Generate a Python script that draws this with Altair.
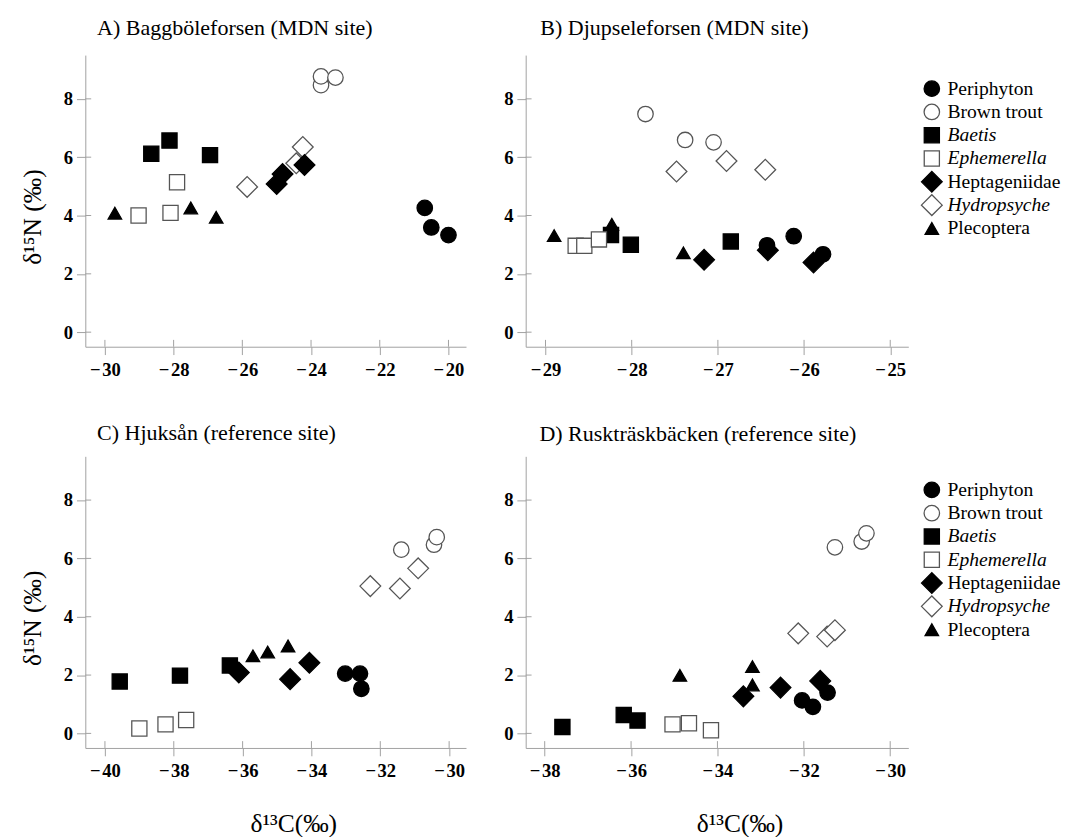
import altair as alt
import pandas as pd

species = ["Periphyton", "Brown trout", "Baetis", "Ephemerella",
           "Heptageniidae", "Hydropsyche", "Plecoptera"]
italic_species = ["Baetis", "Ephemerella", "Hydropsyche"]
shapes = ["circle", "circle", "square", "square", "diamond", "diamond", "triangle-up"]
fills = ["black", "white", "black", "white", "black", "white", "black"]
strokes = ["black", "#555555", "black", "#555555", "black", "#555555", "black"]
shape_sizes = {"circle": 250, "square": 240, "diamond": 450, "triangle-up": 190}
draw_order = ["Periphyton", "Brown trout", "Baetis", "Ephemerella",
              "Hydropsyche", "Heptageniidae", "Plecoptera"]

grp = lambda: [s for s in species for _ in range(3)]

# A) Baggböleforsen
a_c = [-20.69, -20.50, -20.00,  -23.71, -23.71, -23.29,  -28.65, -28.12, -26.94,
       -29.02, -28.09, -27.90,  -25.00, -24.83, -24.19,  -25.86, -24.43, -24.24,
       -29.71, -27.50, -26.76]
a_n = [4.26, 3.59, 3.33,  8.47, 8.77, 8.73,  6.12, 6.57, 6.07,
       4.00, 4.09, 5.14,  5.08, 5.42, 5.73,  4.98, 5.79, 6.35,
       4.08, 4.26, 3.94]
# B) Djupseleforsen
b_c = [-26.12, -26.43, -25.78,  -27.84, -27.38, -27.05,  -28.24, -28.01, -26.85,
       -28.65, -28.55, -28.38,  -27.16, -26.42, -25.89,  -27.48, -26.90, -26.45,
       -28.90, -28.23, -27.40]
b_n = [3.29, 2.98, 2.67,  7.48, 6.59, 6.51,  3.33, 3.00, 3.11,
       2.96, 2.96, 3.18,  2.48, 2.81, 2.39,  5.51, 5.87, 5.57,
       3.31, 3.70, 2.72]
# C) Hjuksån
c_c = [-33.02, -32.59, -32.55,  -31.39, -30.44, -30.36,  -39.57, -37.82, -36.37,
       -39.00, -38.24, -37.64,  -36.11, -34.62, -34.06,  -32.29, -31.43, -30.90,
       -35.70, -35.27, -34.68]
c_n = [2.05, 2.05, 1.53,  6.30, 6.47, 6.73,  1.78, 1.98, 2.33,
       0.17, 0.31, 0.46,  2.09, 1.86, 2.42,  5.05, 4.97, 5.66,
       2.66, 2.79, 3.00]
# D) Ruskträskbäcken
d_c = [-32.04, -31.79, -31.45,  -31.28, -30.66, -30.55,  -37.59, -36.17, -35.85,
       -35.04, -34.66, -34.15,  -33.40, -32.54, -31.62,  -32.13, -31.46, -31.28,
       -34.87, -33.19, -33.19]
d_n = [1.13, 0.91, 1.40,  6.38, 6.58, 6.86,  0.22, 0.63, 0.44,
       0.31, 0.35, 0.11,  1.27, 1.57, 1.80,  3.43, 3.32, 3.54,
       1.99, 2.29, 1.66]

y_ticks = [0, 2, 4, 6, 8]
a_ticks = [-30, -28, -26, -24, -22, -20]
b_ticks = [-29, -28, -27, -26, -25]
c_ticks = [-40, -38, -36, -34, -32, -30]
d_ticks = [-38, -36, -34, -32, -30]

FONT = "Liberation Serif, Times New Roman, DejaVu Serif, serif"
AXC = "#a0a0a0"
H = 298
WL, WR = 389, 391
NEG_LABEL = "datum.value < 0 ? '\u2212\u200a' + format(-datum.value, 'd') : format(datum.value, 'd')"


def sym_enc():
    return dict(
        shape=alt.Shape("species:N", scale=alt.Scale(domain=species, range=shapes), legend=None),
        fill=alt.Fill("species:N", scale=alt.Scale(domain=species, range=fills), legend=None),
        stroke=alt.Stroke("species:N", scale=alt.Scale(domain=species, range=strokes), legend=None),
    )


def point_layers(data, x, y):
    out = []
    for sp in draw_order:
        sz = shape_sizes[shapes[species.index(sp)]]
        out.append(
            alt.Chart(data).transform_filter(
                alt.FieldEqualPredicate(field="species", equal=sp)
            ).mark_point(opacity=1, strokeWidth=1.3, size=sz).encode(x=x, y=y, **sym_enc())
        )
    return out


def panel(cs, ns, title, xdom, xticks, width, ytitle, xtitle, toff, tdx, xt_shift):
    df = pd.DataFrame({"species": grp(), "d13C": cs, "d15N": ns})
    xaxis = dict(values=xticks, tickSize=8, labelPadding=6, labelExpr=NEG_LABEL)
    if xtitle:
        xaxis.update(title="δ¹³C(‰)", titleX=width / 2 + xt_shift, titlePadding=31)
    else:
        xaxis.update(title=None)
    yaxis = dict(values=y_ticks, tickSize=9, labelPadding=4, format="d")
    if ytitle:
        yaxis.update(title="δ¹⁵N (‰)", titleY=165, titlePadding=18)
    else:
        yaxis.update(title=None)
    xs = alt.Scale(domain=xdom, nice=False, zero=False)
    ys = alt.Scale(domain=[-0.5, 9.5], nice=False, zero=False)
    x = alt.X("d13C:Q", scale=xs, axis=alt.Axis(**xaxis))
    y = alt.Y("d15N:Q", scale=ys, axis=alt.Axis(**yaxis))
    yin = alt.Chart(pd.DataFrame({"d15N": y_ticks})).mark_rule(color=AXC, strokeWidth=1).encode(
        y=alt.Y("d15N:Q", scale=ys), x=alt.value(0), x2=alt.value(6))
    xin = alt.Chart(pd.DataFrame({"d13C": xticks})).mark_rule(color=AXC, strokeWidth=1).encode(
        x=alt.X("d13C:Q", scale=xs), y=alt.value(H), y2=alt.value(H - 7))
    return alt.layer(*point_layers(df, x, y), yin, xin).properties(
        width=width, height=H,
        title=alt.TitleParams(title, anchor="start", frame="group", dx=tdx, offset=toff,
                              baseline="bottom", font=FONT, fontSize=22.5,
                              fontWeight="normal", color="black"),
    )


def legend_chart():
    ldf = pd.DataFrame({"species": species, "order": list(range(len(species)))})
    ly = alt.Y("order:Q", scale=alt.Scale(domain=[-34.3 / 23.8, (H - 34.3) / 23.8],
                                          reverse=True, nice=False, zero=False), axis=None)
    pts = point_layers(ldf, alt.value(24), ly)
    normal = alt.Chart(ldf).transform_filter(
        alt.FieldOneOfPredicate(field="species", oneOf=[s for s in species if s not in italic_species])
    ).mark_text(align="left", baseline="middle", font=FONT, fontSize=20, color="black").encode(
        x=alt.value(40), y=ly, text="species:N")
    ital = alt.Chart(ldf).transform_filter(
        alt.FieldOneOfPredicate(field="species", oneOf=italic_species)
    ).mark_text(align="left", baseline="middle", font=FONT, fontSize=20, fontStyle="italic",
                color="black").encode(x=alt.value(40), y=ly, text="species:N")
    return alt.layer(*pts, normal, ital).properties(width=115, height=H)


pA = panel(a_c, a_n, "A) Baggböleforsen (MDN site)", [-30.57, -19.49], a_ticks, WL, True, False, -7, 12, 15)
pB = panel(b_c, b_n, "B) Djupseleforsen (MDN site)", [-29.23, -24.79], b_ticks, WR, False, False, -7, 15, 15)
pC = panel(c_c, c_n, "C) Hjuksån (reference site)", [-40.57, -29.51], c_ticks, WL, True, True, -11, 12, 18)
pD = panel(d_c, d_n, "D) Ruskträskbäcken (reference site)", [-38.44, -29.58], d_ticks, WR, False, True, -12, 14, 23)

row1 = alt.hconcat(pA, alt.hconcat(pB, legend_chart(), spacing=0), spacing=38)
row2 = alt.hconcat(pC, alt.hconcat(pD, legend_chart(), spacing=0), spacing=38)

chart = alt.vconcat(row1, row2, spacing=44).properties(
    padding={"left": 12, "top": 0, "right": 0, "bottom": 0}
).configure_view(stroke=None).configure_axis(
    grid=False, domainColor=AXC, tickColor=AXC, domainWidth=1, tickWidth=1,
    labelFont=FONT, labelFontWeight="bold", labelFontSize=19, labelColor="black",
    titleFont=FONT, titleFontWeight="normal", titleFontSize=26, titleColor="black",
).configure_concat(spacing=38)

chart.save("out.html", embed_options={"renderer": "svg", "actions": False})
